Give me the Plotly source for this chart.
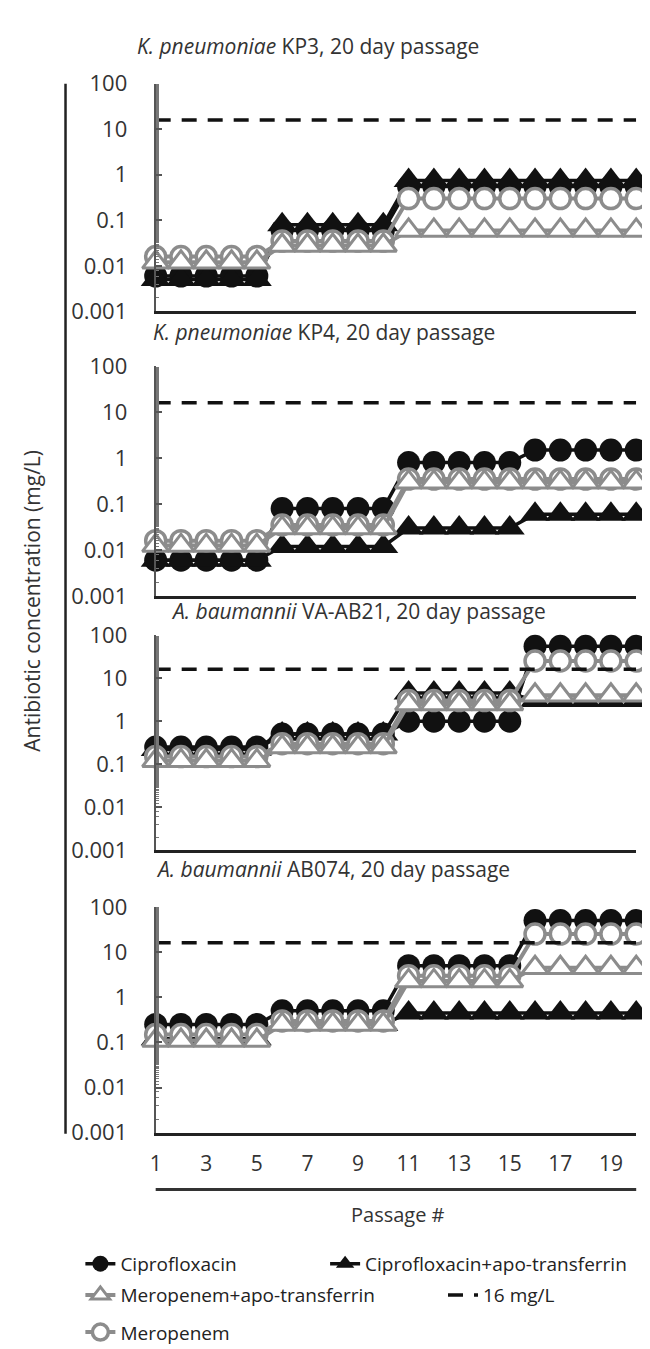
import plotly.graph_objects as go

W, H = 650, 1349

passages = [1, 2, 3, 4, 5, 6, 7, 8, 9, 10, 11, 12, 13, 14, 15, 16, 17, 18, 19, 20]
x_ticks = [1, 3, 5, 7, 9, 11, 13, 15, 17, 19]
y_ticks = [0.001, 0.01, 0.1, 1, 10, 100]
y_tick_text = ["0.001", "0.01", "0.1", "1", "10", "100"]

series_names = ["Ciprofloxacin", "Ciprofloxacin+apo-transferrin", "Meropenem",
                "Meropenem+apo-transferrin", "16 mg/L"]

panel_titles = [
    "<i>K. pneumoniae</i> KP3, 20 day passage",
    "<i>K. pneumoniae</i> KP4, 20 day passage",
    "<i>A. baumannii</i> VA-AB21, 20 day passage",
    "<i>A. baumannii</i> AB074, 20 day passage",
]

breakpoint_16 = [16, 16, 16, 16, 16, 16, 16, 16, 16, 16, 16, 16, 16, 16, 16, 16, 16, 16, 16, 16]

# K. pneumoniae KP3
kp3_cipro = [0.006, 0.006, 0.006, 0.006, 0.006, 0.06, 0.06, 0.06, 0.06, 0.06,
             0.55, 0.55, 0.55, 0.55, 0.55, 0.55, 0.55, 0.55, 0.55, 0.55]
kp3_cipro_apo = [0.005, 0.005, 0.005, 0.005, 0.005, 0.08, 0.08, 0.08, 0.08, 0.08,
                 0.75, 0.75, 0.75, 0.75, 0.75, 0.75, 0.75, 0.75, 0.75, 0.75]
kp3_mero = [0.016, 0.016, 0.016, 0.016, 0.016, 0.035, 0.035, 0.035, 0.035, 0.035,
            0.3, 0.3, 0.3, 0.3, 0.3, 0.3, 0.3, 0.3, 0.3, 0.3]
kp3_mero_apo = [0.012, 0.012, 0.012, 0.012, 0.012, 0.028, 0.028, 0.028, 0.028, 0.028,
                0.06, 0.06, 0.06, 0.06, 0.06, 0.06, 0.06, 0.06, 0.06, 0.06]

# K. pneumoniae KP4
kp4_cipro = [0.006, 0.006, 0.006, 0.006, 0.006, 0.08, 0.08, 0.08, 0.08, 0.08,
             0.8, 0.8, 0.8, 0.8, 0.8, 1.5, 1.5, 1.5, 1.5, 1.5]
kp4_cipro_apo = [0.006, 0.006, 0.006, 0.006, 0.006, 0.012, 0.012, 0.012, 0.012, 0.012,
                 0.03, 0.03, 0.03, 0.03, 0.03, 0.06, 0.06, 0.06, 0.06, 0.06]
kp4_mero = [0.016, 0.016, 0.016, 0.016, 0.016, 0.035, 0.035, 0.035, 0.035, 0.035,
            0.35, 0.35, 0.35, 0.35, 0.35, 0.35, 0.35, 0.35, 0.35, 0.35]
kp4_mero_apo = [0.0125, 0.0125, 0.0125, 0.0125, 0.0125, 0.03, 0.03, 0.03, 0.03, 0.03,
                0.3, 0.3, 0.3, 0.3, 0.3, 0.3, 0.3, 0.3, 0.3, 0.3]

# A. baumannii VA-AB21
ab21_cipro = [0.25, 0.25, 0.25, 0.25, 0.25, 0.5, 0.5, 0.5, 0.5, 0.5,
              1.0, 1.0, 1.0, 1.0, 1.0, 55, 55, 55, 55, 55]
ab21_cipro_apo = [0.22, 0.22, 0.22, 0.22, 0.22, 0.5, 0.5, 0.5, 0.5, 0.5,
                  4.5, 4.5, 4.5, 4.5, 4.5, 3, 3, 3, 3, 3]
ab21_mero = [0.15, 0.15, 0.15, 0.15, 0.15, 0.3, 0.3, 0.3, 0.3, 0.3,
             3, 3, 3, 3, 3, 25, 25, 25, 25, 25]
ab21_mero_apo = [0.12, 0.12, 0.12, 0.12, 0.12, 0.25, 0.25, 0.25, 0.25, 0.25,
                 2.5, 2.5, 2.5, 2.5, 2.5, 4, 4, 4, 4, 4]

# A. baumannii AB074
ab74_cipro = [0.25, 0.25, 0.25, 0.25, 0.25, 0.5, 0.5, 0.5, 0.5, 0.5,
              5, 5, 5, 5, 5, 50, 50, 50, 50, 50]
ab74_cipro_apo = [0.12, 0.12, 0.12, 0.12, 0.12, 0.25, 0.25, 0.25, 0.25, 0.25,
                  0.45, 0.45, 0.45, 0.45, 0.45, 0.45, 0.45, 0.45, 0.45, 0.45]
ab74_mero = [0.15, 0.15, 0.15, 0.15, 0.15, 0.3, 0.3, 0.3, 0.3, 0.3,
             3, 3, 3, 3, 3, 25, 25, 25, 25, 25]
ab74_mero_apo = [0.11, 0.11, 0.11, 0.11, 0.11, 0.25, 0.25, 0.25, 0.25, 0.25,
                 2.3, 2.3, 2.3, 2.3, 2.3, 4.5, 4.5, 4.5, 4.5, 4.5]

panels = [
    (kp3_cipro, kp3_cipro_apo, kp3_mero, kp3_mero_apo),
    (kp4_cipro, kp4_cipro_apo, kp4_mero, kp4_mero_apo),
    (ab21_cipro, ab21_cipro_apo, ab21_mero, ab21_mero_apo),
    (ab74_cipro, ab74_cipro_apo, ab74_mero, ab74_mero_apo),
]

# layout geometry (pixels)
panel_px = [(61, 294), (350, 585), (625, 845), (903, 1134)]
title_px = [(297, 22), (313, 315), (348, 600), (322, 864)]
x_left, x_right = 143, 628

BLACK = "#111111"
GRAY = "#8c8c8c"
TEXT = "#333333"
FONT = "Open Sans"


def py(p):
    return 1 - p / H


def px(p):
    return p / W


fig = go.Figure()

legend_keys = ["legend", "legend2", "legend5", "legend3", "legend4"]

for i, (cip, cipa, mer, mera) in enumerate(panels):
    n = "" if i == 0 else str(i + 1)
    xa, ya = "x" + n, "y" + n
    show = i == 0
    fig.add_trace(go.Scatter(
        x=passages, y=cip, xaxis=xa, yaxis=ya, name=series_names[0], mode="lines+markers",
        line=dict(color=BLACK, width=3.5),
        marker=dict(symbol="circle", size=23, color=BLACK, line=dict(width=0)),
        cliponaxis=False, showlegend=show, legend=legend_keys[0]))
    fig.add_trace(go.Scatter(
        x=passages, y=cipa, xaxis=xa, yaxis=ya, name=series_names[1], mode="lines+markers",
        line=dict(color=BLACK, width=3.5),
        marker=dict(symbol="triangle-up", size=26, color=BLACK, line=dict(width=0)),
        cliponaxis=False, showlegend=show, legend=legend_keys[1]))
    fig.add_trace(go.Scatter(
        x=passages, y=mer, xaxis=xa, yaxis=ya, name=series_names[2], mode="lines+markers",
        line=dict(color=GRAY, width=4),
        marker=dict(symbol="circle", size=20, color="white", line=dict(width=3.5, color=GRAY)),
        cliponaxis=False, showlegend=show, legend=legend_keys[2]))
    fig.add_trace(go.Scatter(
        x=passages, y=mera, xaxis=xa, yaxis=ya, name=series_names[3], mode="lines+markers",
        line=dict(color=GRAY, width=4),
        marker=dict(symbol="triangle-up", size=23, color="white", line=dict(width=3, color=GRAY)),
        cliponaxis=False, showlegend=show, legend=legend_keys[3]))
    fig.add_trace(go.Scatter(
        x=passages, y=breakpoint_16, xaxis=xa, yaxis=ya, name=series_names[4], mode="lines",
        line=dict(color=BLACK, width=3.5, dash="15px,11px"),
        cliponaxis=False, showlegend=show, legend=legend_keys[4]))

    top, bot = panel_px[i]
    fig.layout["xaxis" + n] = dict(
        domain=[px(x_left), px(x_right)], range=[1, 20], anchor=ya,
        showline=True, linecolor="#222222", linewidth=3, showgrid=False, zeroline=False,
        ticks="", showticklabels=(i == 3),
        tickvals=x_ticks, ticktext=[str(v) for v in x_ticks],
        tickfont=dict(family=FONT, size=21, color=TEXT), ticklabelstandoff=10,
    )
    fig.layout["yaxis" + n] = dict(
        domain=[py(bot), py(top)], type="log", range=[-3, 2], anchor=xa,
        showline=True, linecolor="#555555", linewidth=2, showgrid=False, zeroline=False,
        tickvals=y_ticks, ticktext=y_tick_text, ticks="inside", ticklen=6, tickwidth=1.5,
        tickcolor="#555555", ticklabelstandoff=22,
        minor=dict(ticks="inside", ticklen=3, tickwidth=1, tickcolor="#777777"),
        tickfont=dict(family=FONT, size=22, color=TEXT),
    )
    tx, ty = title_px[i]
    fig.add_annotation(x=px(tx), y=py(ty), xref="paper", yref="paper", text=panel_titles[i],
                       showarrow=False, font=dict(family=FONT, size=21, color=TEXT),
                       xanchor="center", yanchor="middle")

# outer frame lines
fig.add_shape(type="line", xref="paper", yref="paper", x0=px(52), x1=px(52), y0=py(61), y1=py(1135),
              line=dict(color="#222222", width=2.5))
fig.add_shape(type="line", xref="paper", yref="paper", x0=px(x_left), x1=px(x_right), y0=py(1192),
              y1=py(1192), line=dict(color="#333333", width=3))

fig.add_annotation(x=px(18), y=py(590), xref="paper", yref="paper",
                   text="Antibiotic concentration (mg/L)", textangle=-90, showarrow=False,
                   font=dict(family=FONT, size=21, color=TEXT), xanchor="center", yanchor="middle")
fig.add_annotation(x=px(388), y=py(1218), xref="paper", yref="paper", text="Passage #",
                   showarrow=False, font=dict(family=FONT, size=20, color=TEXT),
                   xanchor="center", yanchor="middle")

leg_font = dict(family=FONT, size=19, color="#222222")
leg_pos = {
    "legend": (67, 1268),
    "legend2": (314, 1268),
    "legend3": (67, 1300),
    "legend4": (433, 1300),
    "legend5": (67, 1338),
}
for k, (lx, ly) in leg_pos.items():
    fig.layout[k] = dict(x=px(lx), y=py(ly), xanchor="left", yanchor="middle",
                         font=leg_font, bgcolor="rgba(0,0,0,0)", borderwidth=0)

fig.update_layout(width=W, height=H, margin=dict(l=0, r=0, t=0, b=0),
                  paper_bgcolor="white", plot_bgcolor="white")

fig.write_html("out.html")
